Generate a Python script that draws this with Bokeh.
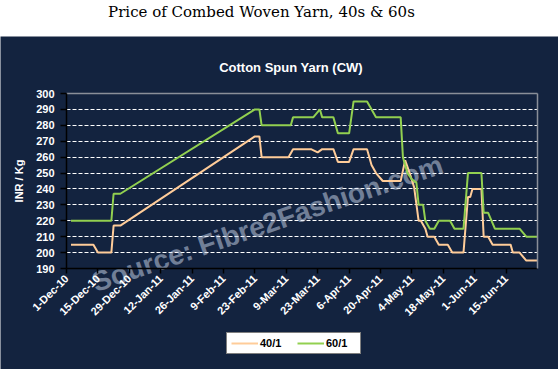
import math
import pandas as pd
from bokeh.plotting import figure
from bokeh.models import (Range1d, FixedTicker, Legend, LegendItem, Label, Div,
                          LinearAxis, Grid)
from bokeh.layouts import column
from bokeh.embed import file_html
from bokeh.resources import INLINE

# ---------------- data ----------------
start_date = "2010-12-01"
tick_labels = ["1-Dec-10", "15-Dec-10", "29-Dec-10", "12-Jan-11", "26-Jan-11",
               "9-Feb-11", "23-Feb-11", "9-Mar-11", "23-Mar-11", "6-Apr-11",
               "20-Apr-11", "4-May-11", "18-May-11", "1-Jun-11", "15-Jun-11"]
tick_dates = ["2010-12-01", "2010-12-15", "2010-12-29", "2011-01-12", "2011-01-26",
              "2011-02-09", "2011-02-23", "2011-03-09", "2011-03-23", "2011-04-06",
              "2011-04-20", "2011-05-04", "2011-05-18", "2011-06-01", "2011-06-15"]
x_end_date = "2011-06-29"

dates_40 = ["2010-12-03", "2010-12-13", "2010-12-15", "2010-12-21", "2010-12-22",
            "2010-12-25", "2011-02-23", "2011-02-25", "2011-02-26", "2011-03-10",
            "2011-03-12", "2011-03-20", "2011-03-23", "2011-03-25", "2011-03-30",
            "2011-04-01", "2011-04-06", "2011-04-08", "2011-04-14", "2011-04-16",
            "2011-04-18", "2011-04-21", "2011-04-29", "2011-05-01", "2011-05-03",
            "2011-05-05", "2011-05-07", "2011-05-08", "2011-05-10", "2011-05-11",
            "2011-05-14", "2011-05-16", "2011-05-20", "2011-05-22", "2011-05-27",
            "2011-05-29", "2011-05-30", "2011-05-31", "2011-06-04", "2011-06-05",
            "2011-06-07", "2011-06-09", "2011-06-17", "2011-06-18", "2011-06-21",
            "2011-06-24", "2011-06-29"]
price_40 = [205, 205, 200, 200, 217, 217, 273, 273, 260, 260,
            265, 265, 263, 265, 265, 257, 257, 265, 265, 255,
            250, 245, 245, 258, 250, 241, 220, 220, 215, 210,
            210, 205, 205, 200, 200, 235, 235, 240, 240, 210,
            210, 205, 205, 200, 200, 195, 195]

dates_60 = ["2010-12-03", "2010-12-21", "2010-12-22", "2010-12-25", "2011-02-23",
            "2011-02-25", "2011-02-26", "2011-03-11", "2011-03-12", "2011-03-21",
            "2011-03-24", "2011-03-25", "2011-03-30", "2011-04-01", "2011-04-06",
            "2011-04-08", "2011-04-14", "2011-04-18", "2011-04-29", "2011-04-30",
            "2011-05-02", "2011-05-04", "2011-05-06", "2011-05-07", "2011-05-09",
            "2011-05-10", "2011-05-12", "2011-05-14", "2011-05-16", "2011-05-21",
            "2011-05-23", "2011-05-27", "2011-05-29", "2011-06-04", "2011-06-05",
            "2011-06-07", "2011-06-10", "2011-06-21", "2011-06-24", "2011-06-29"]
price_60 = [220, 220, 237, 237, 290, 290, 280, 280, 285, 285,
            290, 285, 285, 275, 275, 295, 295, 285, 285, 260,
            250, 246, 244, 230, 230, 220, 215, 215, 220, 220,
            215, 215, 250, 250, 225, 225, 215, 215, 210, 210]

y_ticks = [190, 200, 210, 220, 230, 240, 250, 260, 270, 280, 290, 300]

chart_title = "Cotton Spun Yarn (CW)"
page_title = "Price of Combed Woven Yarn, 40s &amp; 60s"
watermark = "Source: Fibre2Fashion.com"

# ---------------- helpers ----------------
t0 = pd.Timestamp(start_date)
def to_days(lst):
    return [(pd.Timestamp(d) - t0).days for d in lst]

x40 = to_days(dates_40)
x60 = to_days(dates_60)
tick_x = to_days(tick_dates)
x_end = to_days([x_end_date])[0]
y_min, y_max = y_ticks[0], y_ticks[-1]

NAVY = "#13233F"
FONT = "Liberation Sans"
W, H = 558, 333
# plot box (pixels inside the figure canvas)
AX_LEFT, AX_RIGHT, AX_TOP, AX_BOTTOM = 66, 537, 57, 232
px_per_x = (AX_RIGHT - AX_LEFT) / (x_end - 0)
px_per_y = (AX_BOTTOM - AX_TOP) / (y_max - y_min)
x_range = Range1d(0 - AX_LEFT / px_per_x, x_end + (W - AX_RIGHT) / px_per_x)
y_range = Range1d(y_max - (H - AX_TOP) / px_per_y, y_max + AX_TOP / px_per_y)

def px_to_x(px):
    return (px - AX_LEFT) / px_per_x
def px_to_y(py):
    return y_max + (AX_TOP - py) / px_per_y

p = figure(width=W, height=H, output_backend="svg", toolbar_location=None,
           x_range=x_range, y_range=y_range,
           min_border_left=0, min_border_right=0, min_border_top=0,
           min_border_bottom=0)
p.border_fill_color = NAVY
p.background_fill_color = NAVY
p.outline_line_color = None

# chart title (placed above the plot box)
p.add_layout(Label(x=px_to_x(290.5), y=px_to_y(31), text=chart_title,
                   text_align="center", text_baseline="middle",
                   text_color="white", text_font=FONT, text_font_style="bold",
                   text_font_size="13px"))

# axes (placed at the data edges of the plot box)
xa = p.xaxis[0]
ya = p.yaxis[0]
xa.fixed_location = y_min
xa.bounds = (0, x_end)
ya.fixed_location = 0
ya.bounds = (y_min, y_max)
for ax in (xa, ya):
    ax.axis_line_color = "black"
    ax.axis_line_width = 1.5
    ax.major_tick_line_color = "black"
    ax.major_tick_line_width = 1.5
    ax.major_tick_in = 0
    ax.minor_tick_line_color = None
    ax.major_label_text_color = "white"
    ax.major_label_text_font = FONT
    ax.major_label_text_font_style = "bold"
    ax.major_label_text_font_size = "11px"

xa.ticker = FixedTicker(ticks=tick_x)
xa.major_label_overrides = {t: l for t, l in zip(tick_x, tick_labels)}
xa.major_label_orientation = math.pi / 4
xa.major_label_standoff = 3
xa.major_tick_out = 5

ya.ticker = FixedTicker(ticks=y_ticks)
ya.major_tick_out = 6
ya.major_label_standoff = 6
ya.axis_label = "INR / Kg"
ya.axis_label_text_color = "white"
ya.axis_label_text_font = FONT
ya.axis_label_text_font_style = "bold"
ya.axis_label_text_font_size = "11px"
ya.axis_label_standoff = 8

# grey border on top and right of the plot box
for side, loc, bnds in (("right", x_end, (y_min, y_max)), ("above", y_max, (0, x_end))):
    b = LinearAxis(fixed_location=loc, bounds=bnds, ticker=FixedTicker(ticks=[]),
                   axis_line_color="#8A8F99", axis_line_width=1.5,
                   major_tick_line_color=None, minor_tick_line_color=None,
                   major_label_text_font_size="0px")
    p.add_layout(b, side)

p.xgrid.grid_line_color = None
p.ygrid.ticker = FixedTicker(ticks=y_ticks[1:-1])
p.ygrid.grid_line_color = "white"
p.ygrid.grid_line_dash = "4 2"
p.ygrid.grid_line_width = 1
if "cross_bounds" in Grid.properties():
    p.ygrid.cross_bounds = (0, x_end)
else:
    p.ygrid.grid_line_color = None
    gy = y_ticks[1:-1]
    p.segment(x0=[0] * len(gy), x1=[x_end] * len(gy), y0=gy, y1=gy,
              line_color="white", line_dash="4 2", line_width=1)

# watermark
wm = Label(x=89.6, y=218.3, text=watermark, angle=0.33,
           text_align="center", text_baseline="middle",
           text_font=FONT, text_font_style="bold", text_font_size="28px",
           text_color="#D0DCF0", text_alpha=0.5, level="underlay")
p.add_layout(wm)

r40 = p.line(x40, price_40, line_color="#FFCC99", line_width=2)
r60 = p.line(x60, price_60, line_color="#92D050", line_width=2)

legend = Legend(items=[LegendItem(label="40/1", renderers=[r40]),
                       LegendItem(label="60/1", renderers=[r60])],
                orientation="horizontal", location=(226, 15))
legend.background_fill_color = "white"
legend.background_fill_alpha = 1
legend.border_line_color = "black"
legend.border_line_width = 1.5
legend.label_text_font = FONT
legend.label_text_font_style = "bold"
legend.label_text_font_size = "11px"
legend.label_text_color = "black"
legend.glyph_width = 27
legend.glyph_height = 12
legend.label_height = 12
legend.label_width = 30
legend.label_standoff = 2
legend.spacing = 7
legend.padding = 4
legend.margin = 0
p.add_layout(legend, "center")

title_div = Div(
    text=('<div style="width:523px;text-align:center;font-family:\'DejaVu Serif\';'
          'font-size:15px;line-height:16px;padding-top:4px;color:black;">'
          + page_title + '</div>'),
    width=W, height=36, margin=(0, 0, 0, 0))

layout = column(title_div, p, spacing=0)

open("out.html", "w").write(file_html(layout, INLINE))
